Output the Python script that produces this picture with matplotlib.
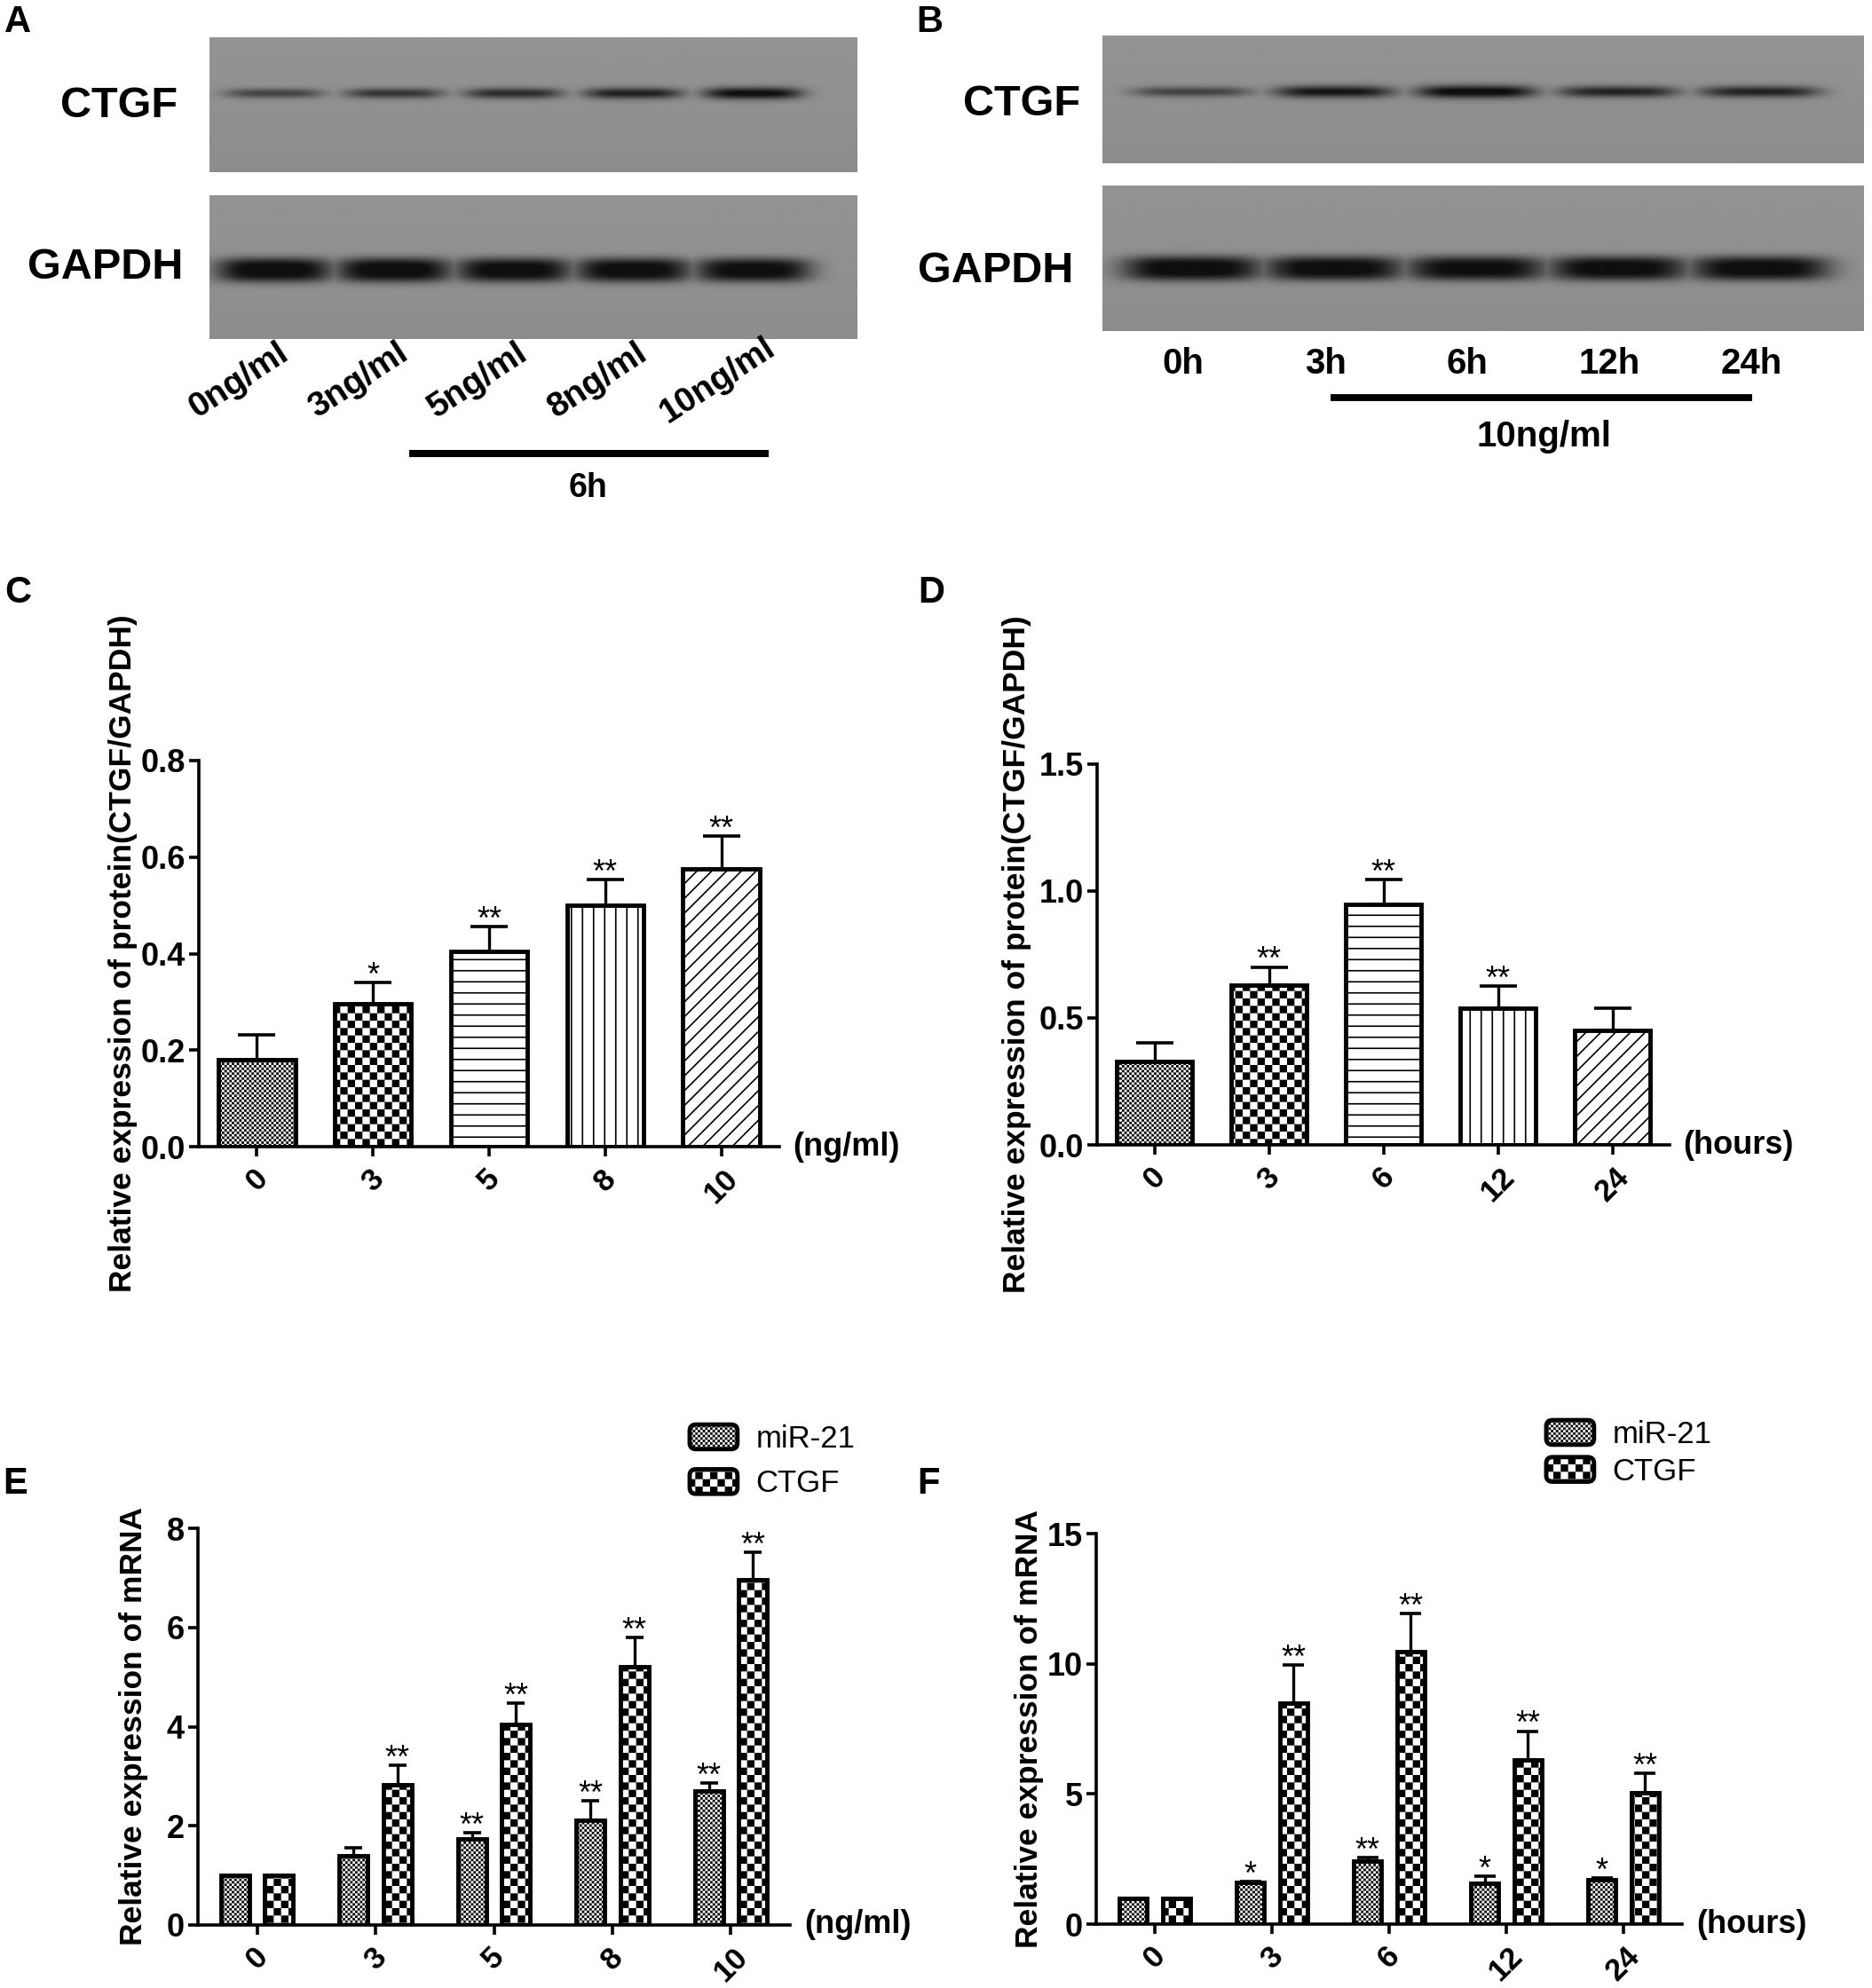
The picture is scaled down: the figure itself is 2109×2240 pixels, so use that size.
import matplotlib
matplotlib.use('Agg')
import matplotlib.pyplot as plt
import matplotlib.transforms as mtransforms
from matplotlib import hatch as mhatch
from matplotlib.path import Path
from matplotlib.patches import FancyBboxPatch, Rectangle
from matplotlib.legend_handler import HandlerPatch
import numpy as np

W, H, DPI = 2109, 2240, 100

plt.rcParams['font.family'] = ['Liberation Sans', 'DejaVu Sans']
plt.rcParams['font.weight'] = 'bold'
plt.rcParams['axes.labelweight'] = 'bold'
plt.rcParams['hatch.linewidth'] = 1.2

# ---- data ----
dose_labels = ['0', '3', '5', '8', '10']
time_labels = ['0', '3', '6', '12', '24']
dose_lane_labels = ['0ng/ml', '3ng/ml', '5ng/ml', '8ng/ml', '10ng/ml']
time_lane_labels = ['0h', '3h', '6h', '12h', '24h']

# relative band density on the blots
band_dose_ctgf = [0.55, 0.65, 0.72, 0.80, 0.95]
band_dose_gapdh = [1.0, 1.0, 0.98, 0.98, 0.97]
band_time_ctgf = [0.55, 0.88, 1.0, 0.78, 0.78]
band_time_gapdh = [1.0, 0.98, 0.97, 0.98, 0.98]

protein_dose = [0.180, 0.297, 0.404, 0.501, 0.576]
protein_dose_err = [0.052, 0.043, 0.052, 0.052, 0.068]
protein_dose_sig = ['', '*', '**', '**', '**']

protein_time = [0.328, 0.631, 0.947, 0.538, 0.451]
protein_time_err = [0.075, 0.070, 0.098, 0.087, 0.089]
protein_time_sig = ['', '**', '**', '**', '']

mir_dose = [1.0, 1.40, 1.73, 2.12, 2.71]
mir_dose_err = [0.0, 0.15, 0.13, 0.39, 0.15]
mir_dose_sig = ['', '', '**', '**', '**']
ctgf_dose = [1.0, 2.82, 4.04, 5.21, 6.97]
ctgf_dose_err = [0.0, 0.40, 0.44, 0.59, 0.54]
ctgf_dose_sig = ['', '**', '**', '**', '**']

mir_time = [1.0, 1.59, 2.41, 1.56, 1.72]
mir_time_err = [0.0, 0.05, 0.15, 0.27, 0.06]
mir_time_sig = ['', '*', '**', '*', '*']
ctgf_time = [1.0, 8.50, 10.47, 6.31, 5.03]
ctgf_time_err = [0.0, 1.45, 1.47, 1.10, 0.75]
ctgf_time_sig = ['', '**', '**', '**', '**']


# ---- checkerboard hatches (GraphPad style fills) ----
class FineChecker(mhatch.HatchPatternBase):
    key = 'o'
    cells = 36

    def __init__(self, hatch, density):
        self.n = self.cells if self.key in hatch else 0
        self.num_vertices = (self.n * self.n // 2) * 5

    def set_vertices_and_codes(self, vertices, codes):
        n = self.n
        step = 1.0 / n
        lw = plt.rcParams['hatch.linewidth'] / 72.0
        side = max(step - lw, step * 0.25)
        pad = (step - side) / 2
        k = 0
        for i in range(n):
            for j in range(n):
                if (i + j) % 2:
                    continue
                x0, y0 = j * step + pad, i * step + pad
                vertices[k:k + 5] = [(x0, y0), (x0 + side, y0), (x0 + side, y0 + side),
                                     (x0, y0 + side), (x0, y0)]
                codes[k:k + 5] = [Path.MOVETO, Path.LINETO, Path.LINETO,
                                  Path.LINETO, Path.CLOSEPOLY]
                k += 5


class CoarseChecker(FineChecker):
    key = 'O'
    cells = 12


class HLines(mhatch.HorizontalHatch):
    def __init__(self, hatch, density):
        self.num_lines = 8 if '-' in hatch else 0
        self.num_vertices = self.num_lines * 2


class VLines(mhatch.VerticalHatch):
    def __init__(self, hatch, density):
        self.num_lines = 8 if '|' in hatch else 0
        self.num_vertices = self.num_lines * 2


mhatch._hatch_types[:] = [HLines, VLines, mhatch.NorthEastHatch, FineChecker, CoarseChecker]

single_hatches = ['o', 'O', '-', '|', '//']


class RoundHandler(HandlerPatch):
    def create_artists(self, legend, orig_handle, xdescent, ydescent, width, height,
                       fontsize, trans):
        p = FancyBboxPatch((-xdescent, -ydescent), width, height,
                           boxstyle='round,pad=0,rounding_size=5')
        self.update_prop(p, orig_handle, legend)
        p.set_transform(trans)
        return [p]


def box(x0, y0, x1, y1):
    return [x0 / W, 1 - y1 / H, (x1 - x0) / W, (y1 - y0) / H]


def ftext(x, y, s, **kw):
    fig.text(x / W, 1 - y / H, s, ha='center', va='center', **kw)


def blot(ax, bands, xlim, yc, width, thick, flat):
    xs = np.linspace(xlim[0], xlim[1], 900)
    ys = np.linspace(0, 1, 220)
    X, Y = np.meshgrid(xs, ys)
    dark = np.zeros_like(X)
    for i, v in enumerate(bands):
        sy = thick * (0.55 + 0.45 * v)
        px = np.exp(-np.abs((X - i) / (width / 2)) ** 4)
        py = np.exp(-np.abs((Y - yc) / sy) ** flat)
        dark = np.maximum(dark, v * px * py)
    bg = 0.55 + 0.03 * Y
    img = bg - (bg - 0.06) * np.clip(dark * 1.1, 0, 1)
    ax.imshow(img, cmap='gray', vmin=0, vmax=1, origin='lower', aspect='auto',
              extent=[xlim[0], xlim[1], 0, 1], interpolation='bilinear')
    ax.set_xlim(xlim)
    ax.set_ylim(0, 1)
    ax.set_axis_off()


def style_axes(ax, ymax, yticks, labels, unit, ylabel, label_x):
    for s in ('top', 'right'):
        ax.spines[s].set_visible(False)
    for s in ('left', 'bottom'):
        ax.spines[s].set_linewidth(2.6)
    ax.set_xlim(-0.5, 4.5)
    ax.set_ylim(0, ymax)
    ax.set_yticks(yticks)
    ax.set_xticks(np.arange(len(labels)))
    ax.set_xticklabels(labels, rotation=45, ha='center', fontsize=25)
    ax.tick_params(axis='both', width=2.6, length=8, color='black')
    ax.tick_params(axis='y', labelsize=26, pad=3)
    ax.tick_params(axis='x', pad=6)
    trans = mtransforms.blended_transform_factory(ax.transAxes, ax.transData)
    ax.text(1.024, 0, unit, transform=trans, ha='left', va='center', fontsize=26)
    ax.set_ylabel(ylabel, fontsize=25.5, fontweight='bold')
    ax.yaxis.set_label_coords(label_x, 0.5)


def add_errors(ax, x, mean, err, sig, capsize):
    x = np.asarray(x, float)
    mean = np.asarray(mean, float)
    err = np.asarray(err, float)
    m = err > 0
    ax.errorbar(x[m], mean[m], yerr=[np.zeros(m.sum()), err[m]], fmt='none',
                ecolor='black', elinewidth=2.4, capsize=capsize, capthick=2.6, zorder=1)
    for xi, top, s in zip(x, mean + err, sig):
        if s:
            ax.annotate(s, (xi, top), xytext=(0, -2), textcoords='offset points',
                        ha='center', va='baseline', fontsize=26, fontweight='normal',
                        annotation_clip=False)


def protein_panel(ax, labels, mean, err, sig, unit, ymax, yticks, label_x):
    x = np.arange(len(labels))
    bars = ax.bar(x, mean, width=0.66, color='white', edgecolor='black',
                  linewidth=3.5, zorder=2)
    for b, h in zip(bars, single_hatches):
        b.set_hatch(h)
    add_errors(ax, x, mean, err, sig, 15)
    style_axes(ax, ymax, yticks, labels, unit,
               'Relative expression of protein(CTGF/GAPDH)', label_x)


def mrna_panel(ax, labels, mir, mir_err, mir_sig, ctgf, ctgf_err, ctgf_sig,
               unit, ymax, yticks, label_x, capsize, legend_xy, spacing):
    x = np.arange(len(labels))
    off, w = 0.185, 0.24
    b1 = ax.bar(x - off, mir, width=w, color='white', edgecolor='black',
                linewidth=3.5, hatch='o', zorder=2)
    b2 = ax.bar(x + off, ctgf, width=w, color='white', edgecolor='black',
                linewidth=3.5, hatch='O', zorder=2)
    add_errors(ax, x - off, mir, mir_err, mir_sig, capsize)
    add_errors(ax, x + off, ctgf, ctgf_err, ctgf_sig, capsize)
    style_axes(ax, ymax, yticks, labels, unit, 'Relative expression of mRNA', label_x)
    ax.legend([b1[0], b2[0]], ['miR-21', 'CTGF'], loc='upper left',
              bbox_to_anchor=(legend_xy[0] / W, 1 - legend_xy[1] / H),
              bbox_transform=fig.transFigure, frameon=False, borderpad=0,
              borderaxespad=0, handlelength=1.55, handleheight=0.85,
              handletextpad=0.6, labelspacing=spacing,
              handler_map={Rectangle: RoundHandler()},
              prop={'size': 25, 'weight': 'normal'})


fig = plt.figure(figsize=(W / DPI, H / DPI), dpi=DPI)

# ---- A: dose blot ----
xa = (-0.54, 4.87)
ax_a1 = fig.add_axes(box(236, 42, 966, 194))
blot(ax_a1, band_dose_ctgf, xa, 0.585, 0.82, 0.045, 2)
ax_a2 = fig.add_axes(box(236, 220, 966, 382))
blot(ax_a2, band_dose_gapdh, xa, 0.48, 0.97, 0.085, 3)
for i, lab in enumerate(dose_lane_labels):
    ax_a2.annotate(lab, (i, 0), xycoords=('data', 'axes fraction'), xytext=(-40, -47),
                   textcoords='offset pixels', rotation=33, ha='center', va='center',
                   fontsize=28, annotation_clip=False)
ta2 = mtransforms.blended_transform_factory(ax_a2.transData, ax_a2.transAxes)
ax_a2.plot([1.126, 4.13], [-0.796, -0.796], color='black', lw=5.8, transform=ta2,
           clip_on=False, solid_capstyle='butt')
ax_a2.text(2.62, -1.04, '6h', transform=ta2, ha='center', va='center', fontsize=27)
ftext(134, 119, 'CTGF', fontsize=35)
ftext(119, 302, 'GAPDH', fontsize=35)

# ---- B: time blot ----
xb = (-0.63, 4.73)
ax_b1 = fig.add_axes(box(1242, 40, 2100, 184))
blot(ax_b1, band_time_ctgf, xb, 0.56, 0.84, 0.05, 2)
ax_b2 = fig.add_axes(box(1242, 209, 2100, 373))
blot(ax_b2, band_time_gapdh, xb, 0.43, 0.98, 0.085, 3)
tb2 = mtransforms.blended_transform_factory(ax_b2.transData, ax_b2.transAxes)
for i, lab in enumerate(time_lane_labels):
    ax_b2.text(i - 0.06, -0.225, lab, transform=tb2, ha='center', va='center', fontsize=29)
ax_b2.plot([0.975, 3.94], [-0.457, -0.457], color='black', lw=5.6, transform=tb2,
           clip_on=False, solid_capstyle='butt')
ax_b2.text(2.475, -0.726, '10ng/ml', transform=tb2, ha='center', va='center', fontsize=29)
ftext(1151, 117, 'CTGF', fontsize=35)
ftext(1122, 306, 'GAPDH', fontsize=35)

# ---- C / D: protein quantification ----
ax_c = fig.add_axes(box(224, 857, 878, 1292))
protein_panel(ax_c, dose_labels, protein_dose, protein_dose_err, protein_dose_sig,
              '(ng/ml)', 0.8, [0.0, 0.2, 0.4, 0.6, 0.8], -0.105)
ax_d = fig.add_axes(box(1236, 861, 1881, 1290))
protein_panel(ax_d, time_labels, protein_time, protein_time_err, protein_time_sig,
              '(hours)', 1.5, [0.0, 0.5, 1.0, 1.5], -0.115)

# ---- E / F: mRNA ----
ax_e = fig.add_axes(box(223, 1722, 890, 2169))
mrna_panel(ax_e, dose_labels, mir_dose, mir_dose_err, mir_dose_sig,
           ctgf_dose, ctgf_dose_err, ctgf_dose_sig, '(ng/ml)', 8, [0, 2, 4, 6, 8],
           -0.084, 7, (777, 1605), 0.5)
ax_f = fig.add_axes(box(1235, 1728, 1895, 2168))
mrna_panel(ax_f, time_labels, mir_time, mir_time_err, mir_time_sig,
           ctgf_time, ctgf_time_err, ctgf_time_sig, '(hours)', 15, [0, 5, 10, 15],
           -0.089, 8.5, (1742, 1600), 0.25)

# ---- panel letters ----
for (x, y), s in zip([(20, 25), (1047, 25), (20, 668), (1049, 668), (17, 1672), (1046, 1672)],
                     'ABCDEF'):
    ftext(x, y, s, fontsize=30)

fig.savefig('out.png', dpi=DPI)
